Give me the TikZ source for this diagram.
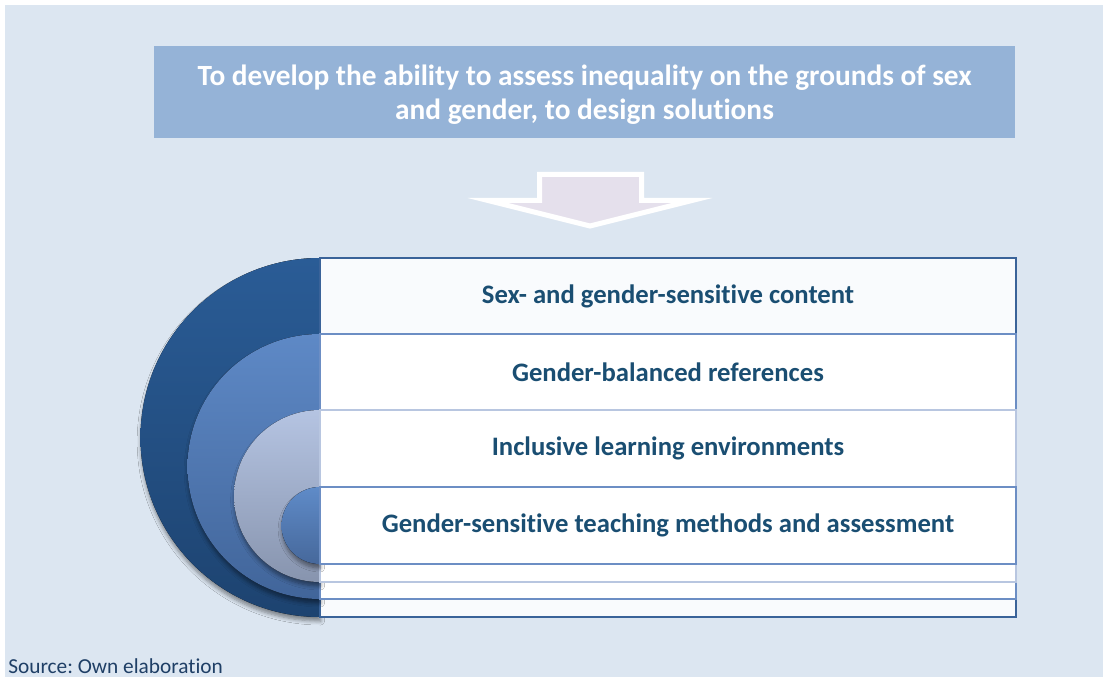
\documentclass[tikz,border=0pt]{standalone}
\usepackage{fontspec}
\setmainfont{Carlito}[Ligatures={NoCommon,NoRequired,NoContextual,NoRare}]
\usepackage{tikz}
\usetikzlibrary{shadows.blur}
\frenchspacing

\definecolor{pagebg}{HTML}{DCE6F1}
\definecolor{titlefill}{HTML}{95B3D7}
\definecolor{arrowfill}{HTML}{E5E0EC}
\definecolor{itemtext}{HTML}{1A4E72}
\definecolor{sourcetext}{HTML}{1F3F66}
% colours of the four nested rings
\definecolor{ringAtop}{HTML}{2A5C96}
\definecolor{ringAbot}{HTML}{1D4370}
\definecolor{ringBtop}{HTML}{5E89C6}
\definecolor{ringBbot}{HTML}{41659A}
\definecolor{ringCtop}{HTML}{B5C4E2}
\definecolor{ringCbot}{HTML}{8794AE}
\definecolor{ringDtop}{HTML}{5F8BC8}
\definecolor{ringDbot}{HTML}{46689B}
\definecolor{edgeA}{HTML}{3A6399}
\definecolor{edgeB}{HTML}{6C8EC4}
\definecolor{edgeC}{HTML}{B8C6E0}
\definecolor{edgeD}{HTML}{6C8EC4}
\definecolor{boxA}{HTML}{F9FBFD}

\tikzset{
  itemlabel/.style={text=itemtext, font=\fontsize{20}{24}\selectfont\bfseries},
  ringshadow/.style={blur shadow={shadow xshift=0.5pt, shadow yshift=-3pt,
      shadow blur radius=3pt, shadow blur steps=6, shadow opacity=45}}
}

\begin{document}
\begin{tikzpicture}[x=0.75pt, y=-0.75pt, line join=miter]
    % Page area and light blue background
    \useasboundingbox (0,0) rectangle (1103,677);
    \fill[pagebg] (5,5) rectangle (1103,677);

    % Goal box at the top
    \fill[titlefill] (154,46) rectangle (1015,138);
    \node[text=white, align=center, font=\fontsize{22}{25.5}\selectfont\bfseries]
        (goal) at (584.5,94.5) {To develop the ability to assess inequality on the grounds of sex\\and gender, to design solutions};

    % Block arrow pointing down
    \filldraw[fill=arrowfill, draw=white, line width=3.75pt]
        (539.5,174.5) -- (641.5,174.5) -- (641.5,200.5) -- (692,200.5)
        -- (590,226) -- (488,200.5) -- (539.5,200.5) -- cycle;

    % Nested half rings, each with its own box behind the list
    \foreach \ytop/\r/\ring/\edge/\boxfill in {258/179.5/A/edgeA/boxA,
                                               334/132.5/B/edgeB/white,
                                               410/86/C/edgeC/white,
                                               487/38.5/D/edgeD/white}{
        \fill[top color=ring\ring top, bottom color=ring\ring bot, ringshadow]
            (320,\ytop) arc[start angle=270, end angle=90, radius=\r] -- cycle;
        \filldraw[fill=\boxfill, draw=\edge, line width=1.5pt]
            (320,\ytop) rectangle (1016,\ytop+2*\r);
    }

    % Labels of the four items
    \node[itemlabel] (content) at (668,296) {Sex- and gender-sensitive content};
    \node[itemlabel] (refs)    at (668,372) {Gender-balanced references};
    \node[itemlabel] (envs)    at (668,448) {Inclusive learning environments};
    \node[itemlabel] (methods) at (668,525) {Gender-sensitive teaching methods and assessment};

    % Source line
    \node[anchor=base west, inner sep=0pt, text=sourcetext, font=\fontsize{16}{18}\selectfont]
        (source) at (8,673.5) {Source: Own elaboration};
\end{tikzpicture}
\end{document}
